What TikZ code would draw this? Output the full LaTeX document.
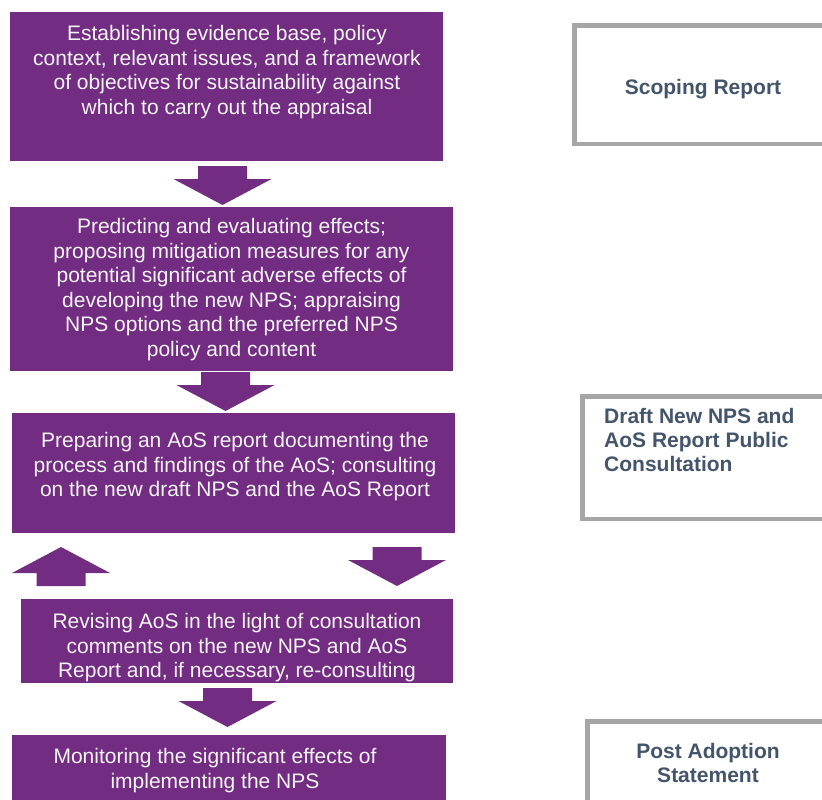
\documentclass[tikz,border=0pt]{standalone}
\usepackage{fontspec}
\setmainfont{Liberation Sans}
\usetikzlibrary{positioning}
\definecolor{aosPurple}{HTML}{722D82}
\definecolor{aosGrey}{HTML}{A6A6A6}
\definecolor{aosSlate}{HTML}{44546A}
\definecolor{aosText}{HTML}{F4F4F4}

\begin{document}
\begin{tikzpicture}[
  x=1pt,y=-1pt,
  stage/.style={fill=aosPurple,draw=none,anchor=north west,inner sep=0pt},
  stagetext/.style={anchor=north,inner sep=0pt,align=center,text=aosText,
    font=\fontsize{21}{24.6}\selectfont},
  outbox/.style={draw=aosGrey,line width=4.5pt,anchor=north west,inner sep=0pt},
  outtext/.style={inner sep=0pt,text=aosSlate,font=\fontsize{21}{24.2}\selectfont\bfseries},
  pics/downarrow/.style={code={
    \fill[aosPurple] (-24.5,0) -- (24.5,0) -- (24.5,13) -- (49,13) -- (0,39)
      -- (-49,13) -- (-24.5,13) -- cycle;}}
]
\useasboundingbox (0,0) rectangle (822,800);
\clip (0,0) rectangle (822,800);

\node[stage,minimum width=433pt,minimum height=149pt] (scoping) at (10,12) {};
\node[stage,minimum width=443pt,minimum height=164pt] (predict) at (10,207) {};
\node[stage,minimum width=443pt,minimum height=120pt] (report) at (12,413) {};
\node[stage,minimum width=432pt,minimum height=84pt] (revise) at (21,599) {};
\node[stage,minimum width=434pt,minimum height=80pt] (monitor) at (12,735) {};

\node[stagetext] (scopingtxt) at (227,25) {Establishing evidence base, policy\\
  context, relevant issues, and a framework\\of objectives for sustainability against\\
  which to carry out the appraisal};
\node[stagetext] (predicttxt) at (231.5,218) {Predicting and evaluating effects;\\
  proposing mitigation measures for any\\potential significant adverse effects of\\
  developing the new NPS; appraising\\NPS options and the preferred NPS\\policy and content};
\node[stagetext] (reporttxt) at (235,432) {Preparing an AoS report documenting the\\
  process and findings of the AoS; consulting\\on the new draft NPS and the AoS Report};
\node[stagetext] (revisetxt) at (237,613) {Revising AoS in the light of consultation\\
  comments on the new NPS and AoS\\Report and, if necessary, re-consulting};
\node[stagetext] (monitortxt) at (215,748) {Monitoring the significant effects of\\
  implementing the NPS};

\pic at (222.5,166) {downarrow};
\pic at (225.5,372) {downarrow};
\pic at (227.5,688) {downarrow};
\pic at (397,547) {downarrow};
\pic[yscale=-1] at (61,586) {downarrow};

\node[outbox,minimum width=300pt,minimum height=118.4pt] (scopebox) at (572.3,23.3) {};
\node[outbox,minimum width=300pt,minimum height=122.4pt] (draftbox) at (580.3,394.3) {};
\node[outbox,minimum width=300pt,minimum height=120pt] (postbox) at (585.3,719.3) {};

\node[outtext,anchor=base] (scopetxt) at (703,94) {Scoping Report};
\node[outtext,anchor=north west,align=left] (drafttxt) at (604,408)
  {Draft New NPS and\\AoS Report Public\\Consultation};
\node[outtext,anchor=north,align=center] (posttxt) at (708,743)
  {Post Adoption\\Statement};
\end{tikzpicture}
\end{document}
